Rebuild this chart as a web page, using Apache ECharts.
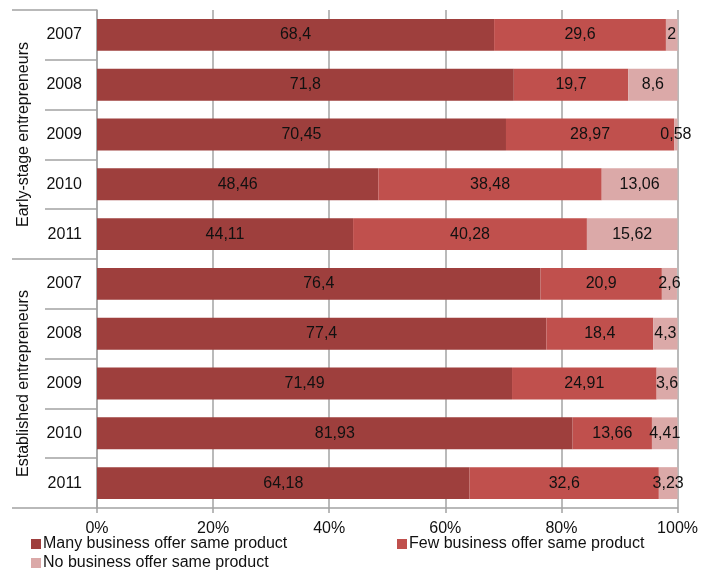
<!DOCTYPE html>
<html>
<head>
<meta charset="utf-8">
<script src="https://cdn.jsdelivr.net/npm/echarts@6/dist/echarts.min.js"></script>
<style>
  html, body { margin: 0; padding: 0; background: #fff; }
  #chart { width: 701px; height: 573px; }
</style>
</head>
<body>
<div id="chart"></div>
<script>
// Row groups and years (top to bottom)
const groups = ['Early-stage entrepreneurs', 'Established entrepreneurs'];
const years = ['2007', '2008', '2009', '2010', '2011'];
const rowKeys = [];
groups.forEach(function (g) { years.forEach(function (y) { rowKeys.push(g + '|' + y); }); });

// Shares (%) per row, same order as rowKeys
const manyBusiness = [68.4, 71.8, 70.45, 48.46, 44.11, 76.4, 77.4, 71.49, 81.93, 64.18];
const fewBusiness  = [29.6, 19.7, 28.97, 38.48, 40.28, 20.9, 18.4, 24.91, 13.66, 32.6];
const noBusiness   = [2, 8.6, 0.58, 13.06, 15.62, 2.6, 4.3, 3.6, 4.41, 3.23];

const seriesNames = [
  'Many business offer same product',
  'Few business offer same product',
  'No business offer same product'
];
const seriesColors = ['#9e3f3d', '#c0504d', '#dba9a8'];
const xTicks = [0, 20, 40, 60, 80, 100];

const FONT = 'Liberation Sans, Arial, sans-serif';
const FS = 16;
const GREY = '#a3a3a3';
const TXT = '#111';

function commaNum(v) { return String(v).replace('.', ','); }

const chart = echarts.init(document.getElementById('chart'), null, { renderer: 'canvas' });

const series = [manyBusiness, fewBusiness, noBusiness].map(function (vals, i) {
  return {
    name: seriesNames[i],
    type: 'bar',
    stack: 'share',
    yAxisIndex: 0,
    barCategoryGap: '36%',
    itemStyle: { color: seriesColors[i] },
    label: {
      show: true,
      position: 'inside',
      color: TXT,
      fontFamily: FONT,
      fontSize: FS,
      formatter: function (p) { return commaNum(p.value); }
    },
    emphasis: { disabled: true },
    data: vals
  };
});

const legendBase = {
  icon: 'rect',
  itemWidth: 10,
  itemHeight: 10,
  itemGap: 0,
  padding: 0,
  textStyle: { color: TXT, fontFamily: FONT, fontSize: FS, padding: [0, 0, 0, -3] },
  selectedMode: false
};

chart.setOption({
  animation: false,
  backgroundColor: '#fff',
  grid: { left: 97, right: 22, top: 10, bottom: 65, containLabel: false },
  legend: [
    Object.assign({}, legendBase, { data: [seriesNames[0]], left: 31, top: 536 }),
    Object.assign({}, legendBase, { data: [seriesNames[1]], left: 397, top: 536 }),
    Object.assign({}, legendBase, { data: [seriesNames[2]], left: 31, top: 555 })
  ],
  xAxis: {
    type: 'value',
    min: xTicks[0],
    max: xTicks[xTicks.length - 1],
    interval: xTicks[1] - xTicks[0],
    axisLine: { show: true, lineStyle: { color: GREY, width: 1.5 } },
    axisTick: { show: true, length: 5, lineStyle: { color: GREY, width: 1.5 } },
    splitLine: { show: true, lineStyle: { color: GREY, width: 1.5 } },
    axisLabel: {
      color: TXT, fontFamily: FONT, fontSize: FS, margin: 13,
      formatter: function (v) { return v + '%'; }
    }
  },
  yAxis: [
    {
      type: 'category',
      inverse: true,
      position: 'left',
      data: rowKeys,
      axisLine: { show: true, lineStyle: { color: GREY, width: 1.5 } },
      axisTick: { show: true, length: 52, lineStyle: { color: GREY, width: 1.5 } },
      axisLabel: {
        color: TXT, fontFamily: FONT, fontSize: FS, margin: 15,
        formatter: function (v) { return v.split('|')[1]; }
      }
    },
    {
      type: 'category',
      inverse: true,
      position: 'left',
      offset: 0,
      data: groups,
      axisLine: { show: false },
      axisTick: { show: true, length: 85, lineStyle: { color: GREY, width: 1.5 } },
      axisLabel: {
        color: TXT, fontFamily: FONT, fontSize: FS, rotate: 90, margin: 65
      }
    }
  ],
  series: series
});
</script>
</body>
</html>
